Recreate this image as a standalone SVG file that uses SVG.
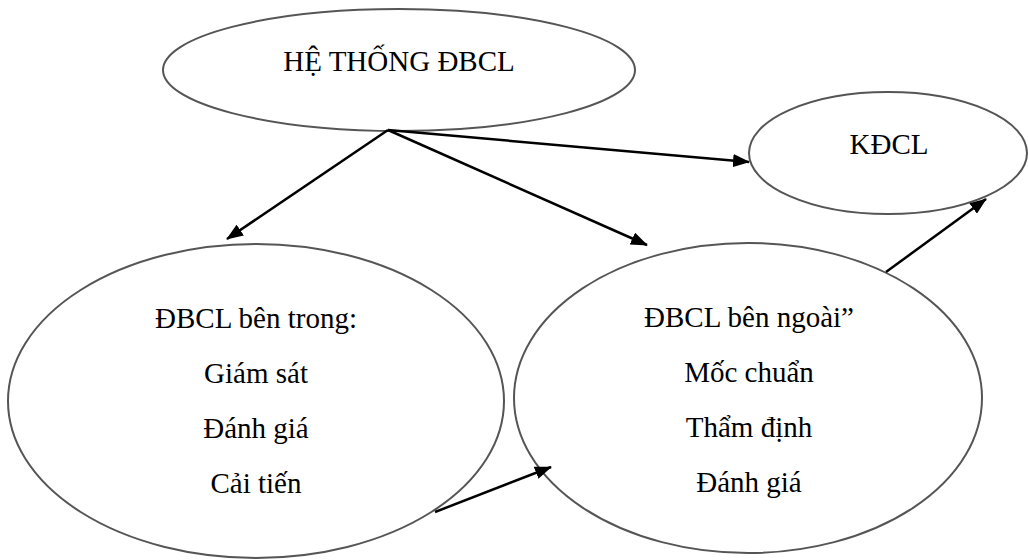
<svg xmlns="http://www.w3.org/2000/svg" width="1028" height="560" viewBox="0 0 1028 560">
<style>
.node ellipse{fill:#fff;stroke:#555;stroke-width:2}
.node text{font-family:'Liberation Serif',serif;font-size:29px;fill:#000;text-anchor:middle}
.conn line{stroke:#000;stroke-width:2.5;marker-end:url(#ah)}
</style>
<defs>
<marker id="ah" viewBox="0 0 17 13" refX="16" refY="6.5" markerWidth="17" markerHeight="13" markerUnits="userSpaceOnUse" orient="auto">
<path d="M0,0 L17,6.5 L0,13 z" fill="#000"/>
</marker>
</defs>
<rect width="1028" height="560" fill="#fff"/>
<g id="n-he-thong" class="node">
<ellipse cx="399" cy="70" rx="236" ry="61"/>
<text x="399" y="71">HỆ THỐNG ĐBCL</text>
</g>
<g id="n-kdcl" class="node">
<ellipse cx="888" cy="153" rx="139" ry="61"/>
<text x="889" y="154">KĐCL</text>
</g>
<g id="n-ben-trong" class="node">
<ellipse cx="256" cy="401" rx="248" ry="157"/>
<text x="256" y="328">ĐBCL bên trong:</text>
<text x="256" y="383">Giám sát</text>
<text x="256" y="438">Đánh giá</text>
<text x="256" y="493">Cải tiến</text>
</g>
<g id="n-ben-ngoai" class="node">
<ellipse cx="748" cy="398" rx="234" ry="155"/>
<text x="749" y="327">ĐBCL bên ngoài”</text>
<text x="749" y="382">Mốc chuẩn</text>
<text x="749" y="437">Thẩm định</text>
<text x="749" y="492">Đánh giá</text>
</g>
<g id="connectors" class="conn">
<line x1="388" y1="130" x2="227" y2="239"/>
<line x1="388" y1="130" x2="647" y2="245"/>
<line x1="388" y1="130" x2="749" y2="162"/>
<line x1="435" y1="512" x2="551" y2="467"/>
<line x1="886" y1="272" x2="986" y2="199"/>
</g>
</svg>
